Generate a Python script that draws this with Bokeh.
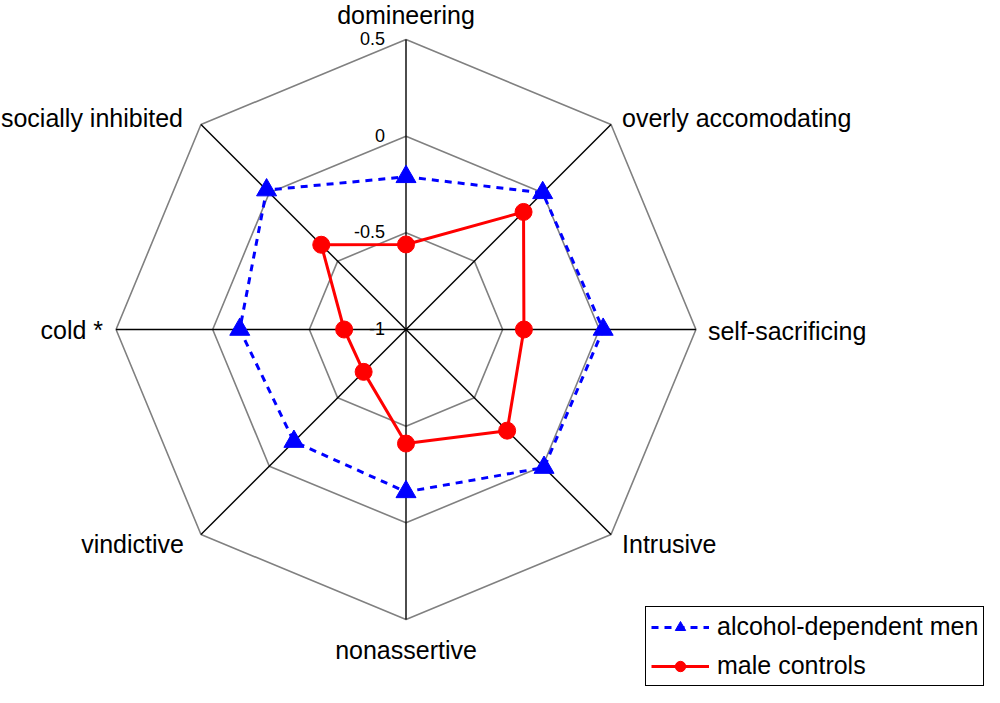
import numpy as np
from bokeh.plotting import figure
from bokeh.models import Range1d, Legend, LegendItem
from bokeh.core.properties import value
from bokeh.embed import file_html
from bokeh.resources import INLINE

# ---- data ----
categories = ["domineering", "overly accomodating", "self-sacrificing", "Intrusive",
              "nonassertive", "vindictive", "cold *", "socially inhibited"]
alcohol = [-0.21, 0.00, 0.02, 0.01, -0.16, -0.18, -0.14, 0.02]
controls = [-0.56, -0.14, -0.39, -0.26, -0.41, -0.69, -0.68, -0.38]
tick_values = [-1.0, -0.5, 0.0, 0.5]
tick_labels = ["-1", "-0.5", "0", "0.5"]
series_names = ["alcohol-dependent men", "male controls"]

# ---- geometry ----
R_MIN = tick_values[0]
R_MAX = tick_values[-1] - R_MIN
SCALE = 193.3          # px per unit
CX, CY = 405.5, 329.0  # centre in figure px
W, H = 984, 687
FONT_NAME = "Liberation Sans"
FONT = value(FONT_NAME)

n = len(categories)
ang = np.pi / 2 - np.arange(n) * 2 * np.pi / n

p = figure(width=W, height=H,
           x_range=Range1d(-CX / SCALE, (W - CX) / SCALE),
           y_range=Range1d(-(H - CY) / SCALE, CY / SCALE),
           output_backend="svg", toolbar_location=None,
           x_axis_location=None, y_axis_location=None,
           min_border=0, outline_line_color=None)
p.grid.visible = False

# rings
for v in tick_values[1:]:
    r = v - R_MIN
    xs = list(r * np.cos(ang)) + [r * np.cos(ang[0])]
    ys = list(r * np.sin(ang)) + [r * np.sin(ang[0])]
    p.line(xs, ys, line_color="#808080", line_width=1.6)

# spokes
p.segment(x0=[0] * n, y0=[0] * n, x1=list(R_MAX * np.cos(ang)), y1=list(R_MAX * np.sin(ang)),
          line_color="black", line_width=1.4)

# tick labels
for v, t in zip(tick_values, tick_labels):
    p.text(x=[0], y=[v - R_MIN], text=[t], x_offset=-21, y_offset=-1,
           text_align="right", text_baseline="middle",
           text_font=FONT, text_font_size="18px", text_color="black")

# category labels
label_style = [
    ("center", 0, -25), ("left", 11, -6), ("left", 12, 1), ("left", 11, 9),
    ("center", 0, 31), ("right", -17, 9), ("right", -13, 0), ("right", -18, -6),
]
for i, cat in enumerate(categories):
    al, xo, yo = label_style[i]
    p.text(x=[R_MAX * np.cos(ang[i])], y=[R_MAX * np.sin(ang[i])], text=[cat],
           x_offset=xo, y_offset=yo, text_align=al, text_baseline="middle",
           text_font=FONT, text_font_size="25px", text_color="black")

def closed(vals):
    r = np.array(vals) - R_MIN
    xs = list(r * np.cos(ang)); ys = list(r * np.sin(ang))
    return xs + [xs[0]], ys + [ys[0]], xs, ys

# controls (red)
cx, cy, cpx, cpy = closed(controls)
rl = p.line(cx, cy, line_color="#ff0000", line_width=3)
rs = p.scatter(cpx, cpy, marker="circle", size=17, fill_color="#ff0000", line_color="#ff0000")

# alcohol (blue)
ax_, ay_, apx, apy = closed(alcohol)
bl = p.line(ax_, ay_, line_color="#0000ff", line_width=3, line_dash="7 6")
bs = p.scatter(apx, apy, marker="triangle", size=20, fill_color="#0000ff", line_color="#0000ff")

legend = Legend(items=[LegendItem(label=series_names[0], renderers=[bl, bs]),
                       LegendItem(label=series_names[1], renderers=[rl, rs])],
                location=(645, 1), orientation="vertical",
                label_text_font=FONT_NAME, label_text_font_size="25px",
                label_text_color="black",
                label_height=26, glyph_height=26, glyph_width=58, label_standoff=8,
                spacing=10, padding=5, margin=0,
                border_line_color="black", border_line_width=1.5, border_line_alpha=1.0,
                background_fill_color="white", background_fill_alpha=1.0)
p.add_layout(legend)

open("out.html", "w").write(file_html(p, INLINE))
